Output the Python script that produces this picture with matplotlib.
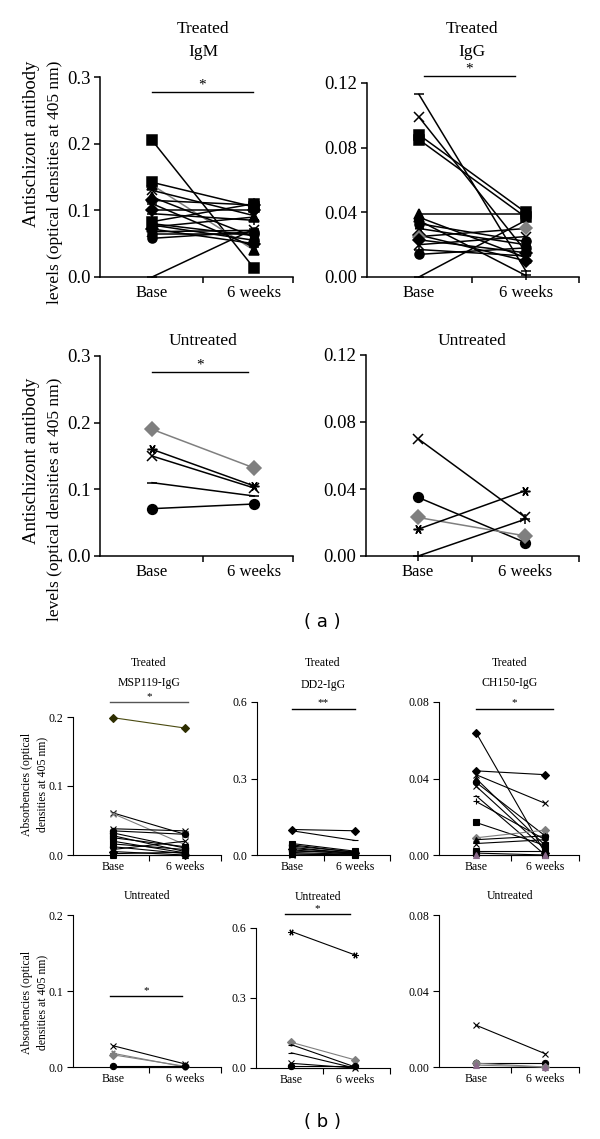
import matplotlib
matplotlib.use("Agg")
import matplotlib.pyplot as plt

plt.rcParams['font.family'] = ['Liberation Serif', 'DejaVu Serif']

# ---------------- data ----------------
categories = ['Base', '6 weeks']

# (a) antischizont antibody levels
igm_treated_base = [0.205, 0.142, 0.138, 0.130, 0.120, 0.115, 0.110, 0.100, 0.095, 0.083, 0.080, 0.078, 0.075, 0.072, 0.068, 0.065, 0.058, 0.000]
igm_treated_6w   = [0.013, 0.105, 0.040, 0.092, 0.060, 0.108, 0.045, 0.100, 0.085, 0.110, 0.062, 0.055, 0.090, 0.050, 0.070, 0.065, 0.068, 0.072]

igg_treated_base = [0.113, 0.099, 0.088, 0.085, 0.039, 0.037, 0.035, 0.033, 0.030, 0.026, 0.025, 0.023, 0.020, 0.017, 0.014, 0.000]
igg_treated_6w   = [0.004, 0.016, 0.040, 0.037, 0.039, 0.012, 0.001, 0.022, 0.020, 0.010, 0.030, 0.015, 0.025, 0.013, 0.018, 0.035]

igm_untreated_base = [0.190, 0.160, 0.150, 0.110, 0.071]
igm_untreated_6w   = [0.132, 0.105, 0.102, 0.090, 0.078]

igg_untreated_base = [0.070, 0.035, 0.023, 0.016, 0.000]
igg_untreated_6w   = [0.023, 0.008, 0.012, 0.039, 0.022]

# (b) absorbencies
msp_treated_base = [0.199, 0.061, 0.060, 0.038, 0.035, 0.032, 0.028, 0.025, 0.020, 0.016, 0.012, 0.008, 0.005, 0.002, 0.000]
msp_treated_6w   = [0.184, 0.030, 0.015, 0.035, 0.030, 0.010, 0.005, 0.012, 0.003, 0.008, 0.002, 0.020, 0.000, 0.004, 0.000]

dd2_treated_base = [0.100, 0.095, 0.045, 0.040, 0.035, 0.030, 0.025, 0.020, 0.015, 0.010, 0.005, 0.000]
dd2_treated_6w   = [0.095, 0.057, 0.015, 0.010, 0.012, 0.005, 0.008, 0.003, 0.010, 0.002, 0.000, 0.005]

ch150_treated_base = [0.064, 0.044, 0.042, 0.040, 0.038, 0.036, 0.031, 0.028, 0.017, 0.009, 0.008, 0.006, 0.002, 0.001, 0.000]
ch150_treated_6w   = [0.001, 0.042, 0.027, 0.005, 0.010, 0.003, 0.000, 0.008, 0.005, 0.013, 0.010, 0.008, 0.002, 0.000, 0.000]

msp_untreated_base = [0.028, 0.018, 0.016, 0.001, 0.000]
msp_untreated_6w   = [0.004, 0.000, 0.001, 0.001, 0.000]

dd2_untreated_base = [0.585, 0.110, 0.100, 0.065, 0.020, 0.008, 0.000]
dd2_untreated_6w   = [0.485, 0.035, 0.005, 0.000, 0.000, 0.008, 0.000]

ch150_untreated_base = [0.022, 0.002, 0.002, 0.001]
ch150_untreated_6w   = [0.007, 0.002, 0.000, 0.000]

# ---------------- styles ----------------
AST = (6, 2, 90)
GRAY = '#7f7f7f'
BLK = 'black'
mk_cycle = ['s', 's', '^', 'x', '^', 'D', '_', 'D', '+', 's', AST, 'o', '^', 'D', 'x', 'o', 'o', '_']

W, H = 600, 1139
fig = plt.figure(figsize=(W / 100, H / 100), dpi=100)


def rect(l, r, t, b):
    return [l / W, 1 - b / H, (r - l) / W, (b - t) / H]


def panel(px, xlim, ylim, yticks, ytl, base, w6, markers, mcols, lcols, ms, lw, fs, tfs):
    ax = fig.add_axes(rect(*px))
    for b, w, m, mc, lc in zip(base, w6, markers, mcols, lcols):
        ax.plot([1, 2], [b, w], color=lc, lw=lw, marker=m, ms=ms, mfc=mc, mec=mc,
                mew=lw, clip_on=False, zorder=3)
    ax.set_xlim(*xlim)
    ax.set_ylim(*ylim)
    for s in ['top', 'right']:
        ax.spines[s].set_visible(False)
    for s in ['left', 'bottom']:
        ax.spines[s].set_linewidth(lw)
    ax.set_yticks(yticks)
    ax.set_yticklabels(ytl, fontsize=fs)
    ax.set_xticks([1, 2])
    ax.set_xticklabels(categories, fontsize=tfs)
    ax.tick_params(axis='x', which='major', length=0, pad=6 if fs > 10 else 4)
    ax.set_xticks([1.5, xlim[1]], minor=True)
    ax.tick_params(axis='x', which='minor', length=4, width=lw, direction='out')
    ax.tick_params(axis='y', length=4, width=lw, direction='out', pad=3)
    return ax


def sig(x0, x1, y, text, fs, color='black', dy=7):
    fig.add_artist(plt.Line2D([x0 / W, x1 / W], [1 - y / H, 1 - y / H],
                              color=color, lw=1.0, transform=fig.transFigure))
    fig.text((x0 + x1) / 2 / W, 1 - (y - dy) / H, text, ha='center', va='center',
             fontsize=fs, color='black')


def ttl(x, y, s, fs):
    fig.text(x / W, 1 - y / H, s, ha='center', va='center', fontsize=fs)


def ylab(x, y, s, fs, ha='right'):
    fig.text(x / W, 1 - y / H, s, rotation=90, rotation_mode='anchor',
             ha=ha, va='center', fontsize=fs)


FA, FB = 13.5, 8.5

# ---- (a) top-left: Treated IgM
n = len(igm_treated_base)
lc = [BLK] * n
lc[2] = GRAY
panel((100, 293, 77, 277), (0.49, 2.38), (0, 0.3), [0, 0.1, 0.2, 0.3],
      ['0.0', '0.1', '0.2', '0.3'], igm_treated_base, igm_treated_6w,
      mk_cycle[:n], [BLK] * n, lc, 6.5, 1.1, FA, 12)
ttl(203, 29, 'Treated', 12.5)
ttl(203, 52, 'IgM', 12.5)
sig(152, 253, 92, '*', 11)

# ---- (a) top-right: Treated IgG
n = len(igg_treated_base)
mk = ['_', 'x', 's', 's', '^', '^', '+', 'o', AST, 'D', 'D', 'D', 'x', '+', 'o', '_']
mc = [BLK] * n
mc[10] = GRAY
panel((367, 579, 83, 277), (0.514, 2.5), (0, 0.12), [0, 0.04, 0.08, 0.12],
      ['0.00', '0.04', '0.08', '0.12'], igg_treated_base, igg_treated_6w,
      mk, mc, [BLK] * n, 6.5, 1.1, FA, 12)
ttl(472, 29, 'Treated', 12.5)
ttl(472, 52, 'IgG', 12.5)
sig(424, 515, 76, '*', 11)

# ---- (a) middle-left: Untreated IgM
mk = ['D', AST, 'x', '_', 'o']
mc = [GRAY, BLK, BLK, BLK, BLK]
panel((100, 293, 356, 556), (0.49, 2.38), (0, 0.3), [0, 0.1, 0.2, 0.3],
      ['0.0', '0.1', '0.2', '0.3'], igm_untreated_base, igm_untreated_6w,
      mk, mc, mc, 7, 1.1, FA, 12)
ttl(203, 341, 'Untreated', 12.5)
sig(152, 248, 372, '*', 11)

# ---- (a) middle-right: Untreated IgG
mk = ['x', 'o', 'D', AST, '+']
mc = [BLK, BLK, GRAY, BLK, BLK]
panel((366, 579, 355, 556), (0.514, 2.5), (0, 0.12), [0, 0.04, 0.08, 0.12],
      ['0.00', '0.04', '0.08', '0.12'], igg_untreated_base, igg_untreated_6w,
      mk, mc, mc, 7, 1.1, FA, 12)
ttl(472, 341, 'Untreated', 12.5)

# y labels (a)
for top in (61, 378):
    ylab(32, top, 'Antischizont antibody', 13.5)
    ylab(55, top, 'levels (optical densities at 405 nm)', 12.5)

fig.text(322 / W, 1 - 622 / H, '( a )', ha='center', va='center', fontsize=13,
         family='DejaVu Sans')

# ---- (b) treated MSP119
n = len(msp_treated_base)
mk = ['D', 'x', 'x', 'x', 'o', 'o', 's', 's', '^', 's', 'o', 'x', 'D', 's', '^']
mc = [BLK] * n
mc[0] = '#2e2e00'
lc = [BLK] * n
lc[0] = '#4a4a10'
lc[2] = GRAY
mc[2] = GRAY
panel((73, 221, 717, 855), (0.444, 2.5), (0, 0.2), [0, 0.1, 0.2], ['0.0', '0.1', '0.2'],
      msp_treated_base, msp_treated_6w, mk, mc, lc, 4.5, 0.8, FB, 8.5)
ttl(149, 663, 'Treated', 8.5)
ttl(149, 683, 'MSP119-IgG', 8.5)
sig(110, 188, 702, '*', 8, color='#555555', dy=5)

# ---- (b) treated DD2
n = len(dd2_treated_base)
mk = ['D', '_', 's', 'o', '^', 's', 'D', 'x', 'o', '^', 's', 'x']
panel((257, 390, 702, 855), (0.444, 2.556), (0, 0.6), [0, 0.3, 0.6], ['0.0', '0.3', '0.6'],
      dd2_treated_base, dd2_treated_6w, mk, [BLK] * n, [BLK] * n, 4.5, 0.8, FB, 8.5)
ttl(323, 663, 'Treated', 8.5)
ttl(323, 685, 'DD2-IgG', 8.5)
sig(292, 355, 709, '**', 8, dy=6)

# ---- (b) treated CH150
n = len(ch150_treated_base)
mk = ['D', 'D', 'x', '^', 'o', 'x', '_', '+', 's', 'D', '^', 'x', 's', 's', '^']
mc = [BLK] * n
mc[9] = GRAY
mc[14] = '#8a6a8a'
lc = [BLK] * n
lc[9] = GRAY
panel((439, 579, 702, 855), (0.464, 2.49), (0, 0.08), [0, 0.04, 0.08],
      ['0.00', '0.04', '0.08'], ch150_treated_base, ch150_treated_6w, mk, mc, lc,
      4.5, 0.8, FB, 8.5)
ttl(510, 663, 'Treated', 8.5)
ttl(510, 683, 'CH150-IgG', 8.5)
sig(476, 553, 709, '*', 8, dy=6)

# ---- (b) untreated MSP119
mk = ['x', AST, 'D', 'o', '_']
mc = [BLK, GRAY, GRAY, BLK, BLK]
panel((73, 221, 915, 1067), (0.444, 2.5), (0, 0.2), [0, 0.1, 0.2], ['0.0', '0.1', '0.2'],
      msp_untreated_base, msp_untreated_6w, mk, mc, mc, 4.5, 0.8, FB, 8.5)
ttl(147, 896, 'Untreated', 8.5)
sig(110, 182, 996, '*', 8, dy=5)

# ---- (b) untreated DD2
mk = [AST, 'D', '_', '_', 'x', 'o', '_']
mc = [BLK, GRAY, BLK, BLK, BLK, BLK, BLK]
panel((256, 390, 928, 1068), (0.444, 2.556), (0, 0.6), [0, 0.3, 0.6], ['0.0', '0.3', '0.6'],
      dd2_untreated_base, dd2_untreated_6w, mk, mc, mc, 4.5, 0.8, FB, 8.5)
ttl(318, 897, 'Untreated', 8.5)
sig(285, 350, 914, '*', 8, dy=5)

# ---- (b) untreated CH150
mk = ['x', 'o', 'D', '^']
mc = [BLK, BLK, GRAY, '#8a6a8a']
panel((439, 579, 915, 1067), (0.464, 2.49), (0, 0.08), [0, 0.04, 0.08],
      ['0.00', '0.04', '0.08'], ch150_untreated_base, ch150_untreated_6w, mk, mc,
      [BLK, BLK, GRAY, GRAY], 4.5, 0.8, FB, 8.5)
ttl(510, 896, 'Untreated', 8.5)

# y labels (b)
for cy in (784, 1002):
    ylab(27, cy, 'Absorbencies (optical', 8.5, ha='center')
    ylab(42, cy, 'densities at 405 nm)', 8.5, ha='center')

fig.text(322 / W, 1 - 1122 / H, '( b )', ha='center', va='center', fontsize=13,
         family='DejaVu Sans')

fig.savefig('out.png', dpi=100)
